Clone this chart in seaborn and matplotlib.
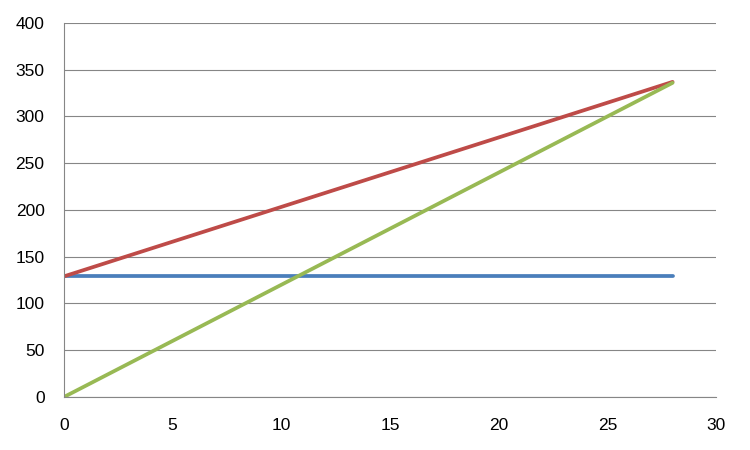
import matplotlib
matplotlib.use("Agg")
import matplotlib.pyplot as plt
import seaborn as sns
import pandas as pd

# values
x = [0, 7, 14, 21, 28]
blue = [129, 129, 129, 129, 129]
red = [129, 181, 233, 285, 337]
green = [0, 84, 168, 252, 336]

sns.set_style("white")
plt.rcParams["font.family"] = ["Liberation Sans", "DejaVu Sans"]

df = pd.DataFrame({"x": x, "blue": blue, "red": red, "green": green})

fig = plt.figure(figsize=(7.5, 4.5), dpi=100)
ax = fig.add_axes([0.0853, 0.1178, 0.8694, 0.8311])

sns.lineplot(data=df, x="x", y="blue", color="#4A7EBB", lw=2.7, ax=ax)
sns.lineplot(data=df, x="x", y="red", color="#BE4B48", lw=2.7, ax=ax)
sns.lineplot(data=df, x="x", y="green", color="#98B954", lw=2.7, ax=ax)

ax.set_xlim(0, 30)
ax.set_ylim(0, 400)
ax.set_xticks(range(0, 31, 5))
ax.set_yticks(range(0, 401, 50))
ax.set_xlabel("")
ax.set_ylabel("")

ax.grid(axis="y", color="#868686", lw=0.8)
ax.set_axisbelow(True)
for s in ["top", "right"]:
    ax.spines[s].set_visible(False)
for s in ["left", "bottom"]:
    ax.spines[s].set_color("#868686")
    ax.spines[s].set_linewidth(0.8)
ax.tick_params(axis="both", direction="out", length=5, width=0.8, color="#868686",
               labelsize=12.5, labelcolor="black")
ax.tick_params(axis="y", pad=9)
ax.tick_params(axis="x", pad=10)

fig.savefig("out.png", dpi=100)
